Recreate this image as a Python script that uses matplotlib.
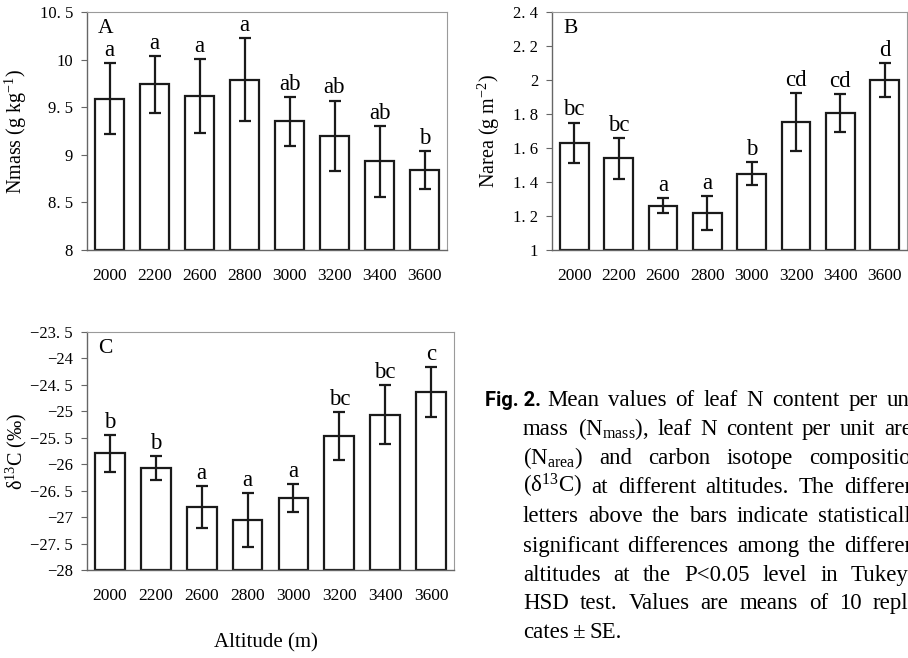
import matplotlib
matplotlib.use("Agg")
import matplotlib.pyplot as plt
import matplotlib.transforms as mtransforms
import numpy as np

plt.rcParams["font.family"] = ["Liberation Serif", "DejaVu Serif"]
plt.rcParams["mathtext.fontset"] = "custom"
plt.rcParams["mathtext.rm"] = "Liberation Serif"
plt.rcParams["mathtext.it"] = "Liberation Serif:italic"
plt.rcParams["mathtext.bf"] = "Liberation Serif:bold"

# data
altitudes = ["2000", "2200", "2600", "2800", "3000", "3200", "3400", "3600"]

nmass = [9.59, 9.74, 9.62, 9.79, 9.35, 9.20, 8.93, 8.84]
nmass_se = [0.37, 0.30, 0.39, 0.44, 0.26, 0.37, 0.37, 0.20]
nmass_letters = ["a", "a", "a", "a", "ab", "ab", "ab", "b"]

narea = [1.63, 1.54, 1.26, 1.22, 1.45, 1.755, 1.805, 2.0]
narea_se = [0.12, 0.12, 0.045, 0.10, 0.068, 0.17, 0.112, 0.10]
narea_letters = ["bc", "bc", "a", "a", "b", "cd", "cd", "d"]

d13c = [-25.79, -26.07, -26.81, -27.06, -26.64, -25.47, -25.06, -24.63]
d13c_se = [0.35, 0.23, 0.39, 0.51, 0.26, 0.45, 0.55, 0.47]
d13c_letters = ["b", "b", "a", "a", "a", "bc", "bc", "c"]

W, H = 908, 658
fig = plt.figure(figsize=(W / 100, H / 100), dpi=100, facecolor="white")


def px_axes(l, t, r, b):
    return fig.add_axes([l / W, 1 - b / H, (r - l) / W, (b - t) / H])


def tick_fmt(v):
    s = ("%g" % v).replace("-", "\u2212")
    return s.replace(".", ". ")


def draw_panel(ax, vals, errs, letters, ylim, yticks, ylabel, tag, labx):
    x = np.arange(len(vals))
    ax.bar(x, np.array(vals) - ylim[0], bottom=ylim[0], width=0.65,
           color="white", edgecolor="#1a1a1a", linewidth=1.6, zorder=2)
    ax.errorbar(x, vals, yerr=errs, fmt="none", ecolor="#1a1a1a",
                elinewidth=1.6, capsize=4, capthick=1.6, zorder=3)
    for xi, v, e, lab in zip(x, vals, errs, letters):
        ax.annotate(lab, (xi, v + e), xytext=(0, 1.5), textcoords="offset points",
                    ha="center", va="bottom", fontsize=16.5)
    ax.set_xlim(-0.5, len(vals) - 0.5)
    ax.set_ylim(*ylim)
    ax.set_yticks(yticks)
    ax.set_yticklabels([tick_fmt(v) for v in yticks], fontsize=12)
    ax.set_xticks(x)
    ax.set_xticklabels(altitudes, fontsize=12.5)
    ax.tick_params(axis="x", length=0, pad=13)
    ax.tick_params(axis="y", length=4, width=0.8, color="#666666", pad=6)
    for side in ["left", "bottom"]:
        ax.spines[side].set_color("#666666")
        ax.spines[side].set_linewidth(1.0)
    for side in ["top", "right"]:
        ax.spines[side].set_color("#9a9a9a")
        ax.spines[side].set_linewidth(0.8)
    ax.set_ylabel(ylabel, fontsize=14.5)
    ax.yaxis.set_label_coords(labx, 0.5)
    ax.annotate(tag, (0, 1), xycoords="axes fraction", xytext=(8, -5),
                textcoords="offset points", ha="left", va="top", fontsize=15.5)


axA = px_axes(87, 12, 447, 250)
draw_panel(axA, nmass, nmass_se, nmass_letters, (8, 10.5),
           np.arange(8, 10.51, 0.5), "Nmass (g kg$^{-1}$)", "A", -0.161)

axB = px_axes(552, 12, 907, 250)
draw_panel(axB, narea, narea_se, narea_letters, (1, 2.4),
           np.round(np.arange(1, 2.41, 0.2), 1), "Narea (g m$^{-2}$)", "B", -0.14)

axC = px_axes(87, 332, 454, 570)
draw_panel(axC, d13c, d13c_se, d13c_letters, (-28, -23.5),
           np.arange(-28, -23.49, 0.5), "\u03b4$^{13}$C (\u2030)", "C", -0.158)

fig.text(266 / W, 1 - 643 / H, "Altitude (m)", ha="center", va="center",
         fontsize=15)

# caption, justified line by line (the right edge runs past the figure)
cap_lines = [
    ["Mean", "values", "of", "leaf", "N", "content", "per", "unit"],
    ["mass", "(N$_{\\rm mass}$),", "leaf", "N", "content", "per", "unit", "area"],
    ["(N$_{\\rm area}$)", "and", "carbon", "isotope", "composition"],
    ["(\u03b4$^{13}$C)", "at", "different", "altitudes.", "The", "different"],
    ["letters", "above", "the", "bars", "indicate", "statistically"],
    ["significant", "differences", "among", "the", "different"],
    ["altitudes", "at", "the", "P<0.05", "level", "in", "Tukey's"],
    ["HSD", "test.", "Values", "are", "means", "of", "10", "repli-"],
    ["cates", "\u00b1", "SE."],
]
cap_x0 = [547, 523, 523, 523, 523, 523, 523, 523, 523]
cap_base = [406, 435, 464, 493, 522, 552, 581, 609, 638]
cap_right = 922
cap_size = 16.5

renderer = fig.canvas.get_renderer()
ident = mtransforms.IdentityTransform()

figlab = fig.text(485, H - cap_base[0], "Fig. 2.", transform=ident, ha="left",
                  va="baseline", fontsize=cap_size, fontweight="bold",
                  family=["DejaVu Sans Condensed", "Liberation Sans Narrow",
                          "Roboto", "Liberation Sans"])
fsz = cap_size
while figlab.get_window_extent(renderer).width > 56 and fsz > 10:
    fsz -= 0.25
    figlab.set_fontsize(fsz)

for i, words in enumerate(cap_lines):
    texts = [fig.text(0, H - cap_base[i], w, transform=ident, ha="left",
                      va="baseline", fontsize=cap_size) for w in words]
    widths = [t.get_window_extent(renderer).width for t in texts]
    if i == len(cap_lines) - 1:
        gap = cap_size * 0.25
    else:
        gap = (cap_right - cap_x0[i] - sum(widths)) / (len(words) - 1)
    xpos = cap_x0[i]
    for t, w in zip(texts, widths):
        t.set_x(xpos)
        xpos += w + gap

fig.savefig("out.png", dpi=100, facecolor="white")
